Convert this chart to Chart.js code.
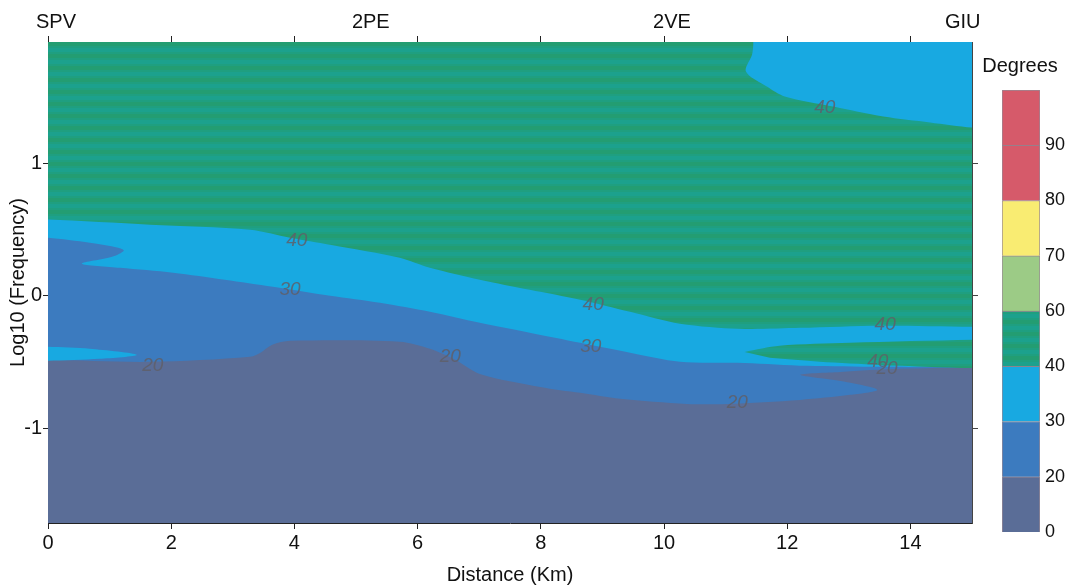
<!DOCTYPE html>
<html lang="en">
<head>
<meta charset="utf-8">
<title>Phase section SPV - GIU</title>
<script src="https://cdn.jsdelivr.net/npm/chart.js@4.4.1/dist/chart.umd.min.js"></script>
<style>
  body { margin: 0; background: #fff; }
  #wrap { position: relative; width: 1065px; height: 585px; }
  #main { position: absolute; left: 0; top: 0; }
  #bar { position: absolute; left: 975px; top: 50px; }
</style>
</head>
<body>
<div id="wrap">
  <canvas id="main" width="1065" height="585"></canvas>
  <canvas id="bar" width="90" height="500"></canvas>
</div>
<script>
// axes
var xMin = 0, xMax = 15, yMin = -1.713, yMax = 1.913;
var xTicks = [0, 2, 4, 6, 8, 10, 12, 14];
var yTicks = [-1, 0, 1];
var stations = ['SPV', '2PE', '2VE', 'GIU'];
var stationKm = [0.13, 5.24, 10.13, 14.85];

// contour 40 (green above / cyan below), left to right
var c40X = [0, 1.66, 3.28, 3.93, 4.58, 5.71, 6.20, 7.01, 7.82, 8.64, 9.45, 10.26, 11.23, 12.21, 13.51, 15];
var c40Y = [0.574, 0.536, 0.498, 0.438, 0.385, 0.287, 0.211, 0.121, 0.045, -0.030, -0.121, -0.211, -0.249, -0.242, -0.226, -0.234];

// contour 30 (cyan above / blue below), with the blue tongue at the left edge
var c30X = [0, 0.68, 1.14, 1.23, 1.04, 0.55, 1.17, 2.03, 2.87, 3.65, 4.58, 5.39, 6.20, 7.01, 7.82, 8.64, 9.45, 10.26, 11.31, 12.32, 13.51, 15];
var c30Y = [0.438, 0.400, 0.362, 0.340, 0.294, 0.242, 0.211, 0.174, 0.121, 0.068, 0.0, -0.053, -0.121, -0.204, -0.279, -0.355, -0.430, -0.498, -0.506, -0.528, -0.536, -0.536];

// contour 20 (top of the 0-20 zone), with the blue tongue and the slate tongue on the right
var c20X = [0, 1.66, 3.28, 3.47, 3.64, 3.93, 5.71, 6.20, 6.61, 7.01, 7.99, 8.64, 9.29, 10.37, 11.02, 12.21, 13.02, 13.46, 12.94, 12.21, 12.86, 13.83, 15];
var c20Y = [-0.483, -0.498, -0.460, -0.423, -0.370, -0.340, -0.347, -0.400, -0.483, -0.589, -0.687, -0.732, -0.777, -0.815, -0.815, -0.785, -0.747, -0.709, -0.649, -0.596, -0.574, -0.551, -0.543];

// small cyan strip at the lower left
var stripX = [0, 0.68, 1.44, 0.84, 0];
var stripY = [-0.385, -0.400, -0.445, -0.475, -0.490];

// green tongue on the right (40-60)
var tongueX = [11.31, 11.88, 13.02, 15, 15, 13.51, 12.53, 11.72];
var tongueY = [-0.423, -0.377, -0.355, -0.332, -0.545, -0.521, -0.498, -0.468];

// cyan patch at the top right (below 40)
var blobX = [11.45, 11.43, 11.33, 11.67, 11.96, 12.74, 13.56, 14.32, 15];
var blobY = [1.913, 1.819, 1.691, 1.577, 1.502, 1.426, 1.351, 1.306, 1.268];

// contour labels
var labText = ['40', '30', '40', '30', '20', '20', '40', '40', '40', '20', '20'];
var labX = [4.04, 3.93, 8.85, 8.81, 6.53, 1.70, 12.61, 13.59, 13.47, 13.62, 11.19];
var labY = [0.415, 0.045, -0.068, -0.385, -0.460, -0.528, 1.419, -0.219, -0.498, -0.551, -0.808];

// colour scale
var levels = ['0', '20', '30', '40', '60', '70', '80', '90'];
var bandColors = ['#5a6d97', '#3c7bbf', '#18a9e1', '#1d9f82', '#9ccb86', '#f9ec72', '#d65a6a', '#d65a6a'];

var FONT = '"Liberation Sans", Arial, sans-serif';
Chart.defaults.font.family = FONT;
Chart.defaults.color = '#111';

function pts(xs, ys) {
  var out = [];
  for (var i = 0; i < xs.length; i++) out.push({x: xs[i], y: ys[i]});
  return out;
}
function rev(a) { return a.slice().reverse(); }

// region above a left-to-right boundary
function above(xs, ys) {
  var n = xs.length;
  return [{x: -0.5, y: 2.4}, {x: 15.5, y: 2.4}, {x: 15.5, y: ys[n - 1]}]
    .concat(rev(pts(xs, ys)))
    .concat([{x: -0.5, y: ys[0]}]);
}

// scanned look of the 40-60 band
var stripe = document.createElement('canvas');
stripe.width = 4; stripe.height = 12;
var sc = stripe.getContext('2d');
sc.fillStyle = '#1ca18d'; sc.fillRect(0, 0, 4, 4);
sc.fillStyle = '#1f9f80'; sc.fillRect(0, 4, 4, 2);
sc.fillStyle = '#239d72'; sc.fillRect(0, 6, 4, 4);
sc.fillStyle = '#1f9f80'; sc.fillRect(0, 10, 4, 2);
var greenFill = document.getElementById('main').getContext('2d').createPattern(stripe, 'repeat');

var regions = [
  {data: [{x: -0.5, y: -2.2}, {x: 15.5, y: -2.2}, {x: 15.5, y: 2.4}, {x: -0.5, y: 2.4}], color: bandColors[0]},
  {data: above(c20X, c20Y), color: bandColors[1]},
  {data: above(c30X, c30Y), color: bandColors[2]},
  {data: [{x: -0.5, y: stripY[0]}].concat(pts(stripX, stripY)).concat([{x: -0.5, y: stripY[4]}]), color: bandColors[2]},
  {data: above(c40X, c40Y), color: greenFill},
  {data: pts(tongueX.slice(0, 4), tongueY.slice(0, 4))
      .concat([{x: 15.5, y: tongueY[3]}, {x: 15.5, y: tongueY[4]}])
      .concat(pts(tongueX.slice(4), tongueY.slice(4))), color: greenFill},
  {data: [{x: blobX[0], y: 2.4}].concat(pts(blobX, blobY))
      .concat([{x: 15.5, y: blobY[blobY.length - 1]}, {x: 15.5, y: 2.4}]), color: bandColors[2]}
];

var datasets = regions.map(function (r, i) {
  return {
    data: r.data,
    backgroundColor: r.color,
    borderColor: 'rgba(0,0,0,0)',
    borderWidth: 0,
    pointRadius: 0,
    fill: 'shape',
    tension: 0.3,
    capBezierPoints: false,
    xAxisID: 'x',
    yAxisID: 'y',
    order: regions.length - i
  };
});

var contourLabels = {
  id: 'contourLabels',
  afterDatasetsDraw: function (chart) {
    var ctx = chart.ctx, xs = chart.scales.x, ys = chart.scales.y;
    ctx.save();
    ctx.font = 'italic 19px ' + FONT;
    ctx.fillStyle = 'rgba(95,95,105,0.85)';
    ctx.textAlign = 'center';
    ctx.textBaseline = 'middle';
    for (var i = 0; i < labText.length; i++) {
      ctx.fillText(labText[i], xs.getPixelForValue(labX[i]), ys.getPixelForValue(labY[i]));
    }
    ctx.restore();
  }
};

function setTicks(list) {
  return function (s) { s.ticks = list.map(function (v) { return {value: v}; }); };
}

new Chart('main', {
  type: 'line',
  data: {datasets: datasets},
  options: {
    responsive: false,
    animation: false,
    events: [],
    layout: {padding: {left: 0, right: 87, top: 0, bottom: 0}},
    plugins: {legend: {display: false}, tooltip: {enabled: false}},
    scales: {
      x: {
        type: 'linear', position: 'bottom', min: xMin, max: xMax,
        afterBuildTicks: setTicks(xTicks),
        afterFit: function (s) { s.height = 62; },
        ticks: {font: {size: 20}, padding: 2, maxRotation: 0, autoSkip: false},
        grid: {drawOnChartArea: false, tickLength: 6, color: '#222'},
        border: {color: '#222'},
        title: {display: true, text: 'Distance (Km)', font: {size: 20, lineHeight: 1}, padding: {top: 0, bottom: 0}}
      },
      xt: {
        type: 'linear', position: 'top', min: xMin, max: xMax, weight: 0,
        afterBuildTicks: setTicks(xTicks),
        afterFit: function (s) { s.height = 6; },
        ticks: {display: false},
        grid: {drawOnChartArea: false, tickLength: 6, color: '#222'},
        border: {color: '#222'}
      },
      xs: {
        type: 'linear', position: 'top', min: xMin, max: xMax, weight: 1,
        afterBuildTicks: setTicks(stationKm),
        afterFit: function (s) { s.height = 36; },
        ticks: {
          font: {size: 20}, padding: 2, maxRotation: 0, autoSkip: false,
          callback: function (v, i) { return stations[i]; }
        },
        grid: {display: false, drawTicks: false},
        border: {display: false}
      },
      y: {
        type: 'linear', position: 'left', min: yMin, max: yMax,
        afterBuildTicks: setTicks(yTicks),
        afterFit: function (s) { s.width = 48; },
        ticks: {font: {size: 20}, padding: 1},
        grid: {drawOnChartArea: false, tickLength: 5, color: '#222'},
        border: {color: '#222'},
        title: {display: true, text: 'Log10 (Frequency)', font: {size: 20, lineHeight: 1}, padding: {top: 8, bottom: 0}}
      },
      yr: {
        type: 'linear', position: 'right', min: yMin, max: yMax,
        afterBuildTicks: setTicks(yTicks),
        afterFit: function (s) { s.width = 6; },
        ticks: {display: false},
        grid: {drawOnChartArea: false, tickLength: 6, color: '#444'},
        border: {color: '#444'}
      }
    }
  },
  plugins: [contourLabels]
});

// colour bar
new Chart('bar', {
  type: 'bar',
  data: {
    labels: [''],
    datasets: bandColors.map(function (c, i) {
      return {data: [1], backgroundColor: i === 3 ? greenFill : c, borderColor: 'rgba(70,40,60,0.55)', borderWidth: 1,
              barPercentage: 1, categoryPercentage: 1, xAxisID: 'x', yAxisID: 'y'};
    })
  },
  options: {
    responsive: false,
    animation: false,
    events: [],
    layout: {padding: {left: 0, right: 0, top: 0, bottom: 18}},
    plugins: {
      legend: {display: false},
      tooltip: {enabled: false},
      title: {display: true, text: 'Degrees', color: '#111', font: {size: 20, weight: 'normal'}, padding: {top: 4, bottom: 12}}
    },
    scales: {
      x: {stacked: true, display: false},
      y: {
        stacked: true, position: 'right', min: 0, max: 8,
        afterBuildTicks: setTicks([0, 1, 2, 3, 4, 5, 6, 7]),
        afterFit: function (s) { s.width = 25; },
        ticks: {font: {size: 18}, padding: 5, callback: function (v) { return levels[v]; }},
        grid: {display: false, drawTicks: false},
        border: {display: false}
      },
      pad: {
        type: 'linear', position: 'left', display: true,
        afterFit: function (s) { s.width = 27; },
        ticks: {display: false},
        grid: {display: false, drawTicks: false},
        border: {display: false}
      }
    }
  }
});
</script>
</body>
</html>
